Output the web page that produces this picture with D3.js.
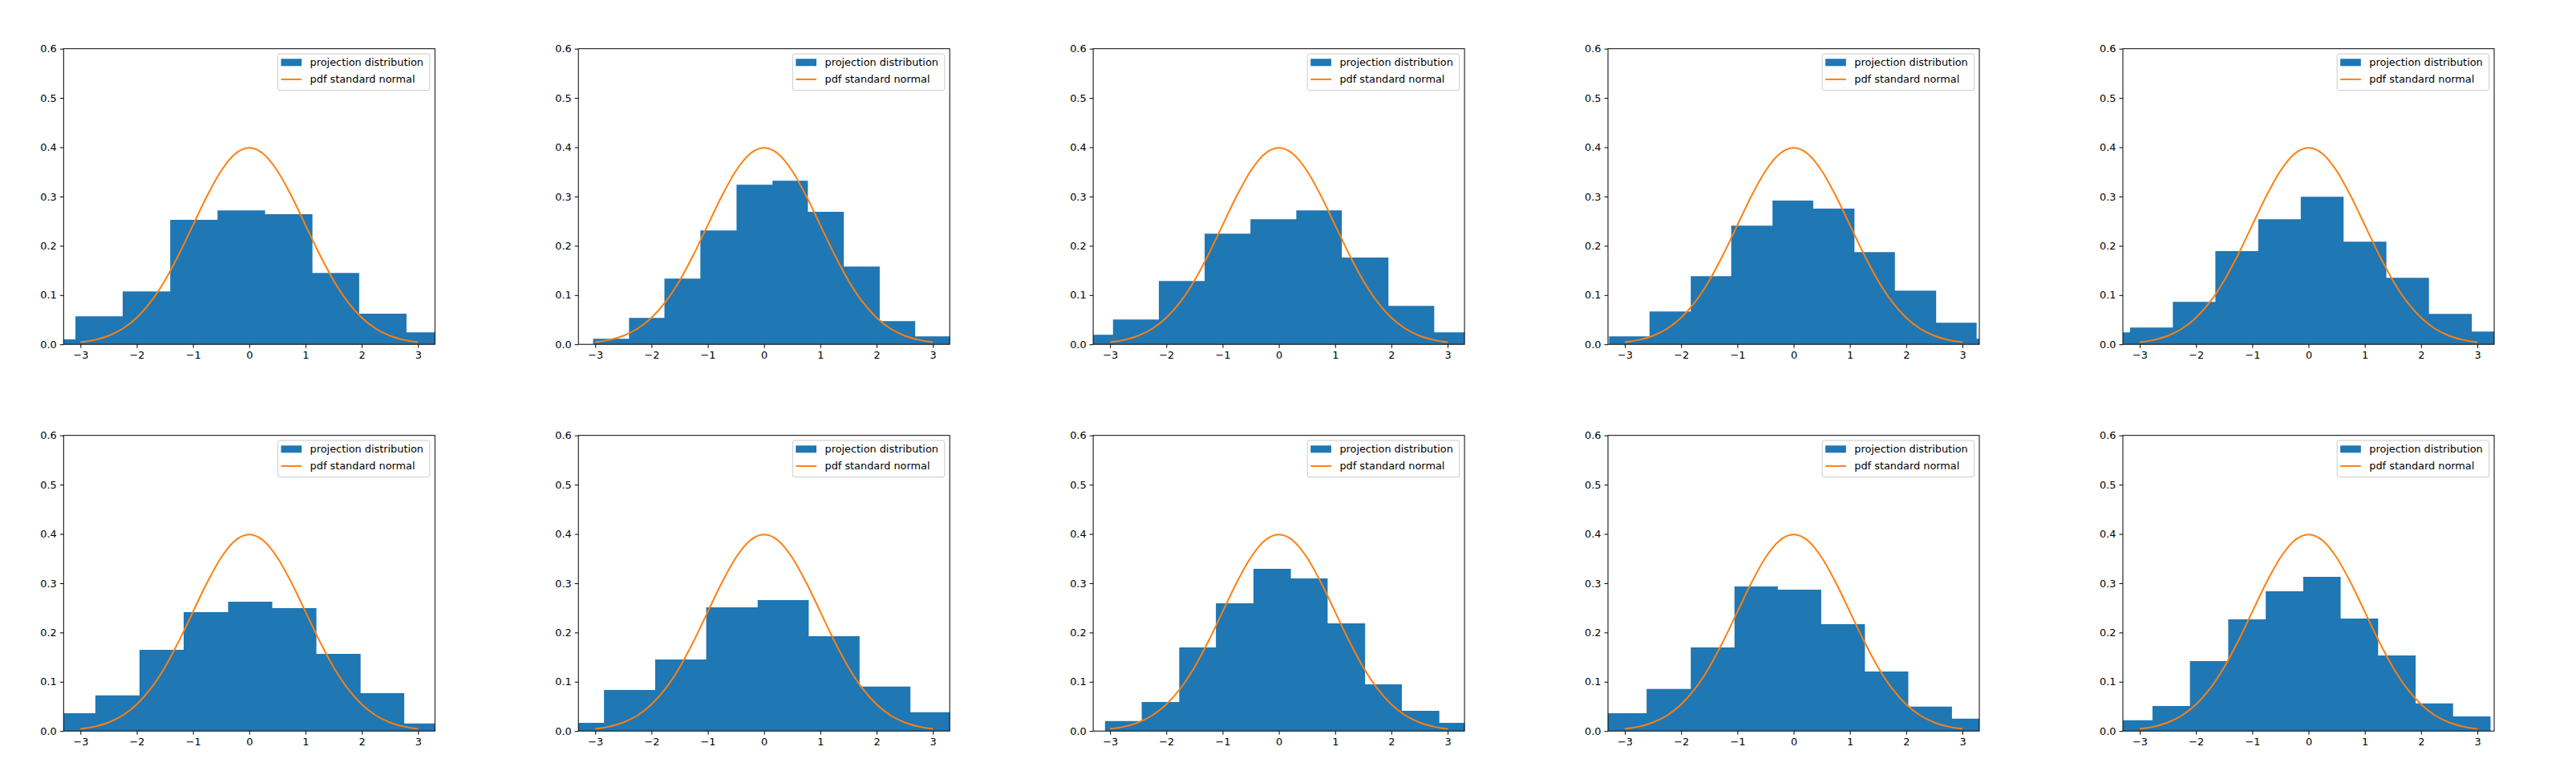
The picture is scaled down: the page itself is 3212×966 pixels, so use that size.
<!DOCTYPE html>
<html>
<head>
<meta charset="utf-8">
<script src="https://cdn.jsdelivr.net/npm/d3@7"></script>
<style>
  body { margin: 0; background: #fff; }
  svg text { font-family: "DejaVu Sans", sans-serif; }
</style>
</head>
<body>
<div id="chart"></div>
<script>
// histogram bin edges and densities, one pair per subplot
var edges1 = [-3.93, -3.09, -2.25, -1.405, -0.564, 0.282, 1.123, 1.954, 2.795, 3.64];
var dens1  = [0.010, 0.057, 0.1075, 0.2525, 0.272, 0.264, 0.145, 0.062, 0.0244];
var edges2 = [-3.039, -2.40, -1.771, -1.132, -0.489, 0.150, 0.779, 1.418, 2.056, 2.686, 3.325];
var dens2  = [0.0114, 0.0538, 0.1336, 0.2313, 0.324, 0.332, 0.2688, 0.158, 0.0472, 0.0163];
var edges3 = [-3.762, -2.948, -2.133, -1.319, -0.505, 0.310, 1.119, 1.948, 2.762, 3.576];
var dens3  = [0.0195, 0.0505, 0.1287, 0.2248, 0.2541, 0.272, 0.176, 0.0782, 0.0244];
var edges4 = [-3.281, -2.562, -1.829, -1.110, -0.376, 0.348, 1.081, 1.800, 2.533, 3.252, 3.98];
var dens4  = [0.0163, 0.0668, 0.1385, 0.241, 0.2916, 0.2753, 0.1873, 0.1091, 0.044, 0.0114];
var edges5 = [-3.932, -3.173, -2.412, -1.656, -0.894, -0.138, 0.623, 1.384, 2.141, 2.902, 3.661];
var dens5  = [0.0244, 0.0342, 0.0863, 0.189, 0.2541, 0.2997, 0.2085, 0.1352, 0.0619, 0.0261];
var edges6 = [-3.521, -2.736, -1.951, -1.166, -0.376, 0.409, 1.194, 1.979, 2.755, 3.54];
var dens6  = [0.0363, 0.0722, 0.1649, 0.2414, 0.2626, 0.2496, 0.1568, 0.077, 0.0152];
var edges7 = [-3.753, -2.845, -1.936, -1.028, -0.114, 0.794, 1.698, 2.602, 3.51];
var dens7  = [0.0168, 0.0835, 0.1454, 0.2512, 0.2658, 0.1926, 0.0901, 0.038];
var edges8 = [-3.09, -2.438, -1.771, -1.119, -0.452, 0.214, 0.867, 1.533, 2.186, 2.852, 3.52];
var dens8  = [0.0201, 0.0591, 0.1698, 0.2593, 0.3293, 0.3098, 0.2186, 0.0949, 0.0412, 0.0168];
var edges9 = [-3.39, -2.614, -1.829, -1.052, -0.281, 0.490, 1.267, 2.038, 2.814, 3.59];
var dens9  = [0.0363, 0.0852, 0.1698, 0.2935, 0.287, 0.217, 0.121, 0.0494, 0.025];
var edges10 = [-3.44, -2.774, -2.108, -1.427, -0.761, -0.095, 0.571, 1.237, 1.903, 2.569, 3.235];
var dens10  = [0.0217, 0.051, 0.1421, 0.2268, 0.2837, 0.313, 0.2284, 0.1535, 0.0559, 0.0298];

// standard normal pdf, same curve in every subplot
var pdfX = [-3, -2.75, -2.5, -2.25, -2, -1.75, -1.5, -1.25, -1, -0.75, -0.5, -0.25, 0,
            0.25, 0.5, 0.75, 1, 1.25, 1.5, 1.75, 2, 2.25, 2.5, 2.75, 3];
var pdfY = [0.0044, 0.0091, 0.0175, 0.0317, 0.0540, 0.0863, 0.1295, 0.1826, 0.2420, 0.3011, 0.3521, 0.3867, 0.3989,
            0.3867, 0.3521, 0.3011, 0.2420, 0.1826, 0.1295, 0.0863, 0.0540, 0.0317, 0.0175, 0.0091, 0.0044];

var xTicks = [-3, -2, -1, 0, 1, 2, 3];
var yTicks = [0, 0.1, 0.2, 0.3, 0.4, 0.5, 0.6];
var legendLabels = ['projection distribution', 'pdf standard normal'];

var panels = [
  [edges1, dens1], [edges2, dens2], [edges3, dens3], [edges4, dens4], [edges5, dens5],
  [edges6, dens6], [edges7, dens7], [edges8, dens8], [edges9, dens9], [edges10, dens10]
];

var W = 3212, H = 966;
var axW = 463, axH = 368.5;
var lefts = [79.3, 721.2, 1363.1, 2005, 2647];
var tops = [60.7, 542.7];
var fs = 12.85;
var blue = '#1f77b4', orange = '#ff7f0e';

var svg = d3.select('#chart').append('svg')
  .attr('width', W).attr('height', H);

var x = d3.scaleLinear().domain([-3.3, 3.3]).range([0, axW]);
var y = d3.scaleLinear().domain([0, 0.6]).range([axH, 0]);

var pdfPts = pdfX.map(function(v, i){ return [v, pdfY[i]]; });
var line = d3.line()
  .x(function(d){ return x(d[0]); })
  .y(function(d){ return y(d[1]); })
  .curve(d3.curveMonotoneX);

// histogram drawn as one stepped area so adjacent bars have no seams
var histArea = d3.area()
  .x(function(d){ return x(d[0]); })
  .y0(y(0))
  .y1(function(d){ return y(d[1]); })
  .curve(d3.curveStepAfter);

panels.forEach(function(p, idx){
  var edges = p[0], dens = p[1];
  var g = svg.append('g')
    .attr('transform', 'translate(' + lefts[idx % 5] + ',' + tops[Math.floor(idx / 5)] + ')');

  var clipId = 'clip' + idx;
  g.append('clipPath').attr('id', clipId)
    .append('rect').attr('width', axW).attr('height', axH);

  var plot = g.append('g').attr('clip-path', 'url(#' + clipId + ')');

  var steps = edges.map(function(e, i){ return [e, i < dens.length ? dens[i] : dens[dens.length - 1]]; });
  plot.append('path').datum(steps)
    .attr('d', histArea)
    .attr('fill', blue);

  plot.append('path').datum(pdfPts)
    .attr('d', line)
    .attr('fill', 'none')
    .attr('stroke', orange)
    .attr('stroke-width', 2);

  // axes
  var xAxis = d3.axisBottom(x).tickValues(xTicks).tickSize(4.5).tickPadding(4)
    .tickFormat(d3.format('d'));
  var yAxis = d3.axisLeft(y).tickValues(yTicks).tickSize(4.5).tickPadding(4)
    .tickFormat(d3.format('.1f'));

  var gx = g.append('g').attr('transform', 'translate(0,' + axH + ')').call(xAxis);
  var gy = g.append('g').call(yAxis);
  [gx, gy].forEach(function(a){
    a.select('.domain').remove();
    a.selectAll('line').attr('stroke', '#000').attr('stroke-width', 1);
    a.selectAll('text').attr('fill', '#000').style('font-size', fs + 'px')
      .style('font-family', '"DejaVu Sans", sans-serif');
  });

  g.append('rect')
    .attr('width', axW).attr('height', axH)
    .attr('fill', 'none').attr('stroke', '#000').attr('stroke-width', 1);

  // legend
  var lw = 189.5, lh = 45.5;
  var lg = g.append('g').attr('transform', 'translate(' + (axW - 6.4 - lw) + ',6.4)');
  lg.append('rect')
    .attr('width', lw).attr('height', lh).attr('rx', 2.5).attr('ry', 2.5)
    .attr('fill', 'rgba(255,255,255,0.8)').attr('stroke', '#cccccc').attr('stroke-width', 1);
  lg.append('rect')
    .attr('x', 4).attr('y', 6.2).attr('width', 25.7).attr('height', 9)
    .attr('fill', blue);
  lg.append('line')
    .attr('x1', 4).attr('x2', 29.7).attr('y1', 31.8).attr('y2', 31.8)
    .attr('stroke', orange).attr('stroke-width', 2);
  lg.selectAll('text.lab').data(legendLabels).enter().append('text')
    .attr('class', 'lab')
    .attr('x', 40.2)
    .attr('y', function(d, i){ return i === 0 ? 10.9 : 31.8; })
    .attr('dy', '0.35em')
    .style('font-size', fs + 'px')
    .attr('fill', '#000')
    .text(function(d){ return d; });
});
</script>
</body>
</html>
